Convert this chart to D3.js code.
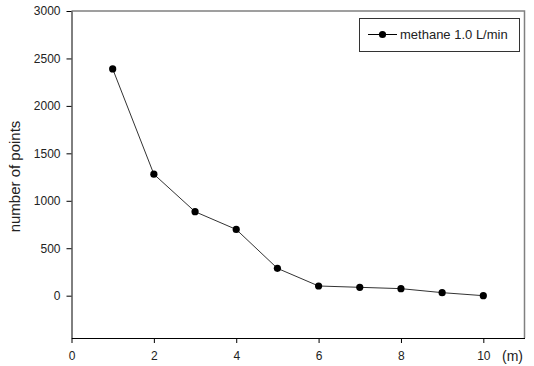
<!DOCTYPE html>
<html>
<head>
<meta charset="utf-8">
<script src="https://cdn.jsdelivr.net/npm/d3@7"></script>
<style>
  body { margin: 0; background: #fff; }
  text { font-family: "Liberation Sans", Arial, sans-serif; fill: #222; }
</style>
</head>
<body>
<svg id="chart" width="534" height="366"></svg>
<script>
// distance (m) and number of points
var distances = [1, 2, 3, 4, 5, 6, 7, 8, 9, 10];
var pointCounts = [2390, 1280, 885, 698, 288, 102, 88, 74, 32, 0];
var xTicks = [0, 2, 4, 6, 8, 10];
var yTicks = [0, 500, 1000, 1500, 2000, 2500, 3000];
var seriesName = "methane 1.0 L/min";

var svg = d3.select("#chart");
var plotLeft = 71.5, plotRight = 524.5, plotTop = 11, plotBottom = 338;

var x = d3.scaleLinear().domain([0, 11]).range([plotLeft, plotRight]);
var y = d3.scaleLinear().domain([-446, 3000]).range([plotBottom, plotTop]);

// cadre : haut et droite en gris
svg.append("path")
  .attr("d", "M" + plotLeft + "," + plotTop + "H" + plotRight + "V" + plotBottom)
  .attr("fill", "none")
  .attr("stroke", "#808080")
  .attr("stroke-width", 1.5);

// axe x
var xAxis = svg.append("g")
  .attr("transform", "translate(0," + plotBottom + ")")
  .call(d3.axisBottom(x).tickValues(xTicks).tickSize(5).tickSizeOuter(0).tickPadding(8));
xAxis.select(".domain").attr("stroke", "#000");
xAxis.selectAll("text").style("font-size", "12px").attr("fill", "#222");

// axe y
var yAxis = svg.append("g")
  .attr("transform", "translate(" + plotLeft + ",0)")
  .call(d3.axisLeft(y).tickValues(yTicks).tickFormat(d3.format("d")).tickSize(5).tickSizeOuter(0).tickPadding(6));
yAxis.select(".domain").attr("stroke", "#000");
yAxis.selectAll("text").style("font-size", "12px").attr("fill", "#222");

// titres des axes
svg.append("text")
  .attr("transform", "translate(20," + ((plotTop + plotBottom) / 2 + 2) + ") rotate(-90)")
  .attr("text-anchor", "middle")
  .style("font-size", "15px")
  .text("number of points");

svg.append("text")
  .attr("x", 502)
  .attr("y", 361)
  .style("font-size", "14px")
  .text("(m)");

// courbe
var data = distances.map(function(d, i) { return { d: d, n: pointCounts[i] }; });
var line = d3.line().x(function(p) { return x(p.d); }).y(function(p) { return y(p.n); });

svg.append("path")
  .datum(data)
  .attr("d", line)
  .attr("fill", "none")
  .attr("stroke", "#333")
  .attr("stroke-width", 1);

svg.selectAll(".pt")
  .data(data)
  .enter()
  .append("circle")
  .attr("class", "pt")
  .attr("cx", function(p) { return x(p.d); })
  .attr("cy", function(p) { return y(p.n); })
  .attr("r", 3.6)
  .attr("fill", "#000");

// légende
var legend = svg.append("g");
legend.append("rect")
  .attr("x", 359.5).attr("y", 18.5)
  .attr("width", 160).attr("height", 33)
  .attr("fill", "#fff")
  .attr("stroke", "#333")
  .attr("stroke-width", 1);
legend.append("line")
  .attr("x1", 368).attr("x2", 397)
  .attr("y1", 34.5).attr("y2", 34.5)
  .attr("stroke", "#000");
legend.append("circle")
  .attr("cx", 382.5).attr("cy", 34.5).attr("r", 3.6)
  .attr("fill", "#000");
legend.append("text")
  .attr("x", 400).attr("y", 39)
  .style("font-size", "13px")
  .text(seriesName);
</script>
</body>
</html>
